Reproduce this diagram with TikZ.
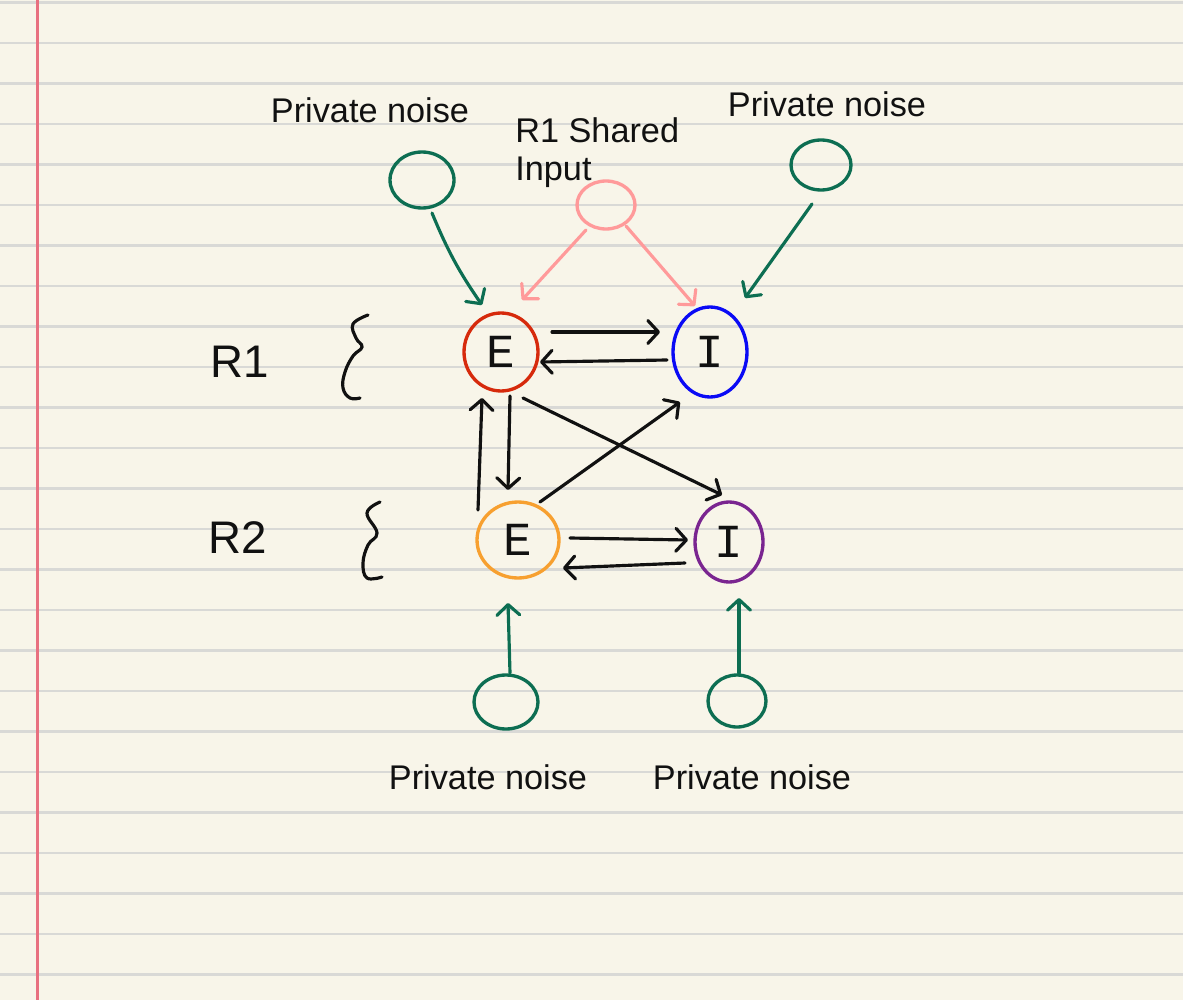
\documentclass[tikz,border=0pt]{standalone}
\usepackage{fontspec}
\setmainfont{Liberation Sans}
\newfontfamily\letterfont{Liberation Mono}
\usetikzlibrary{arrows.meta,shapes.geometric,calc}
\definecolor{paper}{HTML}{F8F5E9}
\definecolor{ruleline}{HTML}{D9D9D6}
\definecolor{marginred}{HTML}{E8707F}
\definecolor{ngreen}{HTML}{0D6E52}
\definecolor{npink}{HTML}{FF9A9A}
\definecolor{nred}{HTML}{D62A0C}
\definecolor{nblue}{HTML}{0A0AF5}
\definecolor{norange}{HTML}{F7A030}
\definecolor{npurple}{HTML}{7A2590}
\definecolor{ink}{HTML}{111111}
\begin{document}
\begin{tikzpicture}[x=0.02cm,y=-0.02cm,
  blob/.style={ellipse, draw, line width=1.9pt, inner sep=0pt, font=\letterfont\fontsize{27}{29}\selectfont, text=ink},
  lbl/.style={font=\fontsize{19.5}{22}\selectfont, text=ink, inner sep=0pt},
  arr/.style={line width=1.8pt, line cap=round, -{Straight Barb[length=6pt,width=13pt,round]}},
  blk/.style={arr, draw=ink},
  grn/.style={arr, draw=ngreen},
  pnk/.style={arr, draw=npink},
  brace/.style={line width=1.8pt, draw=ink, line cap=round}]
\useasboundingbox (0,0) rectangle (1183,1000);
\fill[paper] (0,0) rectangle (1183,1000);
\foreach \k in {0,...,24} \draw[ruleline, line width=1.4pt] (0,{2.5+40.5*\k}) -- (1183,{2.5+40.5*\k});
\draw[marginred, line width=1.5pt] (37.5,0) -- (37.5,1000);

% nodes
\node[blob, draw=ngreen, minimum width=1.28cm, minimum height=1.12cm] (gnl) at (422,180) {};
\node[blob, draw=npink, minimum width=1.16cm, minimum height=0.96cm] (p) at (606,205) {};
\node[blob, draw=ngreen, minimum width=1.2cm, minimum height=1.0cm] (gnr) at (821,165) {};
\node[blob, draw=nred, minimum width=1.48cm, minimum height=1.56cm] (e1) at (501,352) {E};
\node[blob, draw=nblue, minimum width=1.48cm, minimum height=1.8cm] (i1) at (710,352) {I};
\node[blob, draw=norange, minimum width=1.64cm, minimum height=1.52cm] (e2) at (518,540) {E};
\node[blob, draw=npurple, minimum width=1.36cm, minimum height=1.6cm] (i2) at (729,542) {I};
\node[blob, draw=ngreen, minimum width=1.28cm, minimum height=1.08cm] (gbl) at (506,702) {};
\node[blob, draw=ngreen, minimum width=1.16cm, minimum height=1.04cm] (gbr) at (737,701) {};

% labels
\node[lbl] (t1) at (370,110) {Private noise};
\node[lbl, anchor=west] (t2) at (515,130) {R1 Shared};
\node[lbl, anchor=west] (t3) at (515,172) {Input};
\node[lbl] (t4) at (827,104) {Private noise};
\node[lbl] (t5) at (488,777) {Private noise};
\node[lbl] (t6) at (752,777) {Private noise};
\node[lbl, font=\fontsize{26}{28}\selectfont] (r1) at (240,362) {R1};
\node[lbl, font=\fontsize{26}{28}\selectfont] (r2) at (238,538) {R2};

% braces
\draw[brace] plot[smooth, tension=0.7] coordinates {(368,315) (353,324) (356,338) (362,347) (353,356) (345,372) (343,388) (350,398) (360,398)};
\draw[brace] plot[smooth, tension=0.7] coordinates {(380,502) (367,513) (377,533) (368,545) (363,563) (367,578) (382,577)};

% connectors
\draw[grn] ($(gnl)+(10,33)$) to[bend right=6] ($(e1)+(-19,-47)$);
\draw[pnk] ($(p)+(-20,25)$) -- ($(e1)+(21,-52)$);
\draw[pnk] ($(p)+(20,21)$) -- ($(i1)+(-15,-46)$);
\draw[grn] ($(gnr)+(-9,39)$) -- ($(i1)+(35,-54)$);
\draw[blk] ($(e1)+(51,-20)$) -- ($(i1)+(-50,-20)$);
\draw[blk] ($(i1)+(-43,8)$) -- ($(e1)+(39,10)$);
\draw[blk] ($(e1)+(9,44)$) -- ($(e2)+(-10,-50)$);
\draw[blk] ($(e2)+(-40,-30)$) -- ($(e1)+(-19,46)$);
\draw[blk] ($(e1)+(22,46)$) -- ($(i2)+(-7,-47)$);
\draw[blk] ($(e2)+(22,-38)$) -- ($(i1)+(-30,50)$);
\draw[blk] ($(e2)+(52,-2)$) -- ($(i2)+(-41,-2)$);
\draw[blk] ($(i2)+(-44,21)$) -- ($(e2)+(45,28)$);
\draw[grn] ($(gbl)+(4,-29)$) -- ($(e2)+(-10,63)$);
\draw[grn] ($(gbr)+(2,-28)$) -- ($(i2)+(10,56)$);
\end{tikzpicture}
\end{document}
